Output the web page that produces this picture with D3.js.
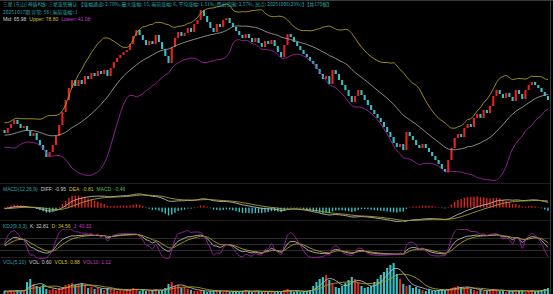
<!DOCTYPE html>
<html lang="zh">
<head>
<meta charset="UTF-8">
<title>神盾K线</title>
<script src="https://d3js.org/d3.v7.min.js"></script>
<style>
  html, body { margin: 0; padding: 0; background: #000; }
  svg { display: block; }
  text { font-family: "Liberation Sans", "Noto Sans CJK SC", sans-serif; font-size: 5px; }
  text.cjk { font-family: "Noto Sans CJK SC", sans-serif; font-size: 5px; }
</style>
</head>
<body>
<svg id="chart" width="553" height="294"></svg>
<script>
// closes before the first visible bar (only used to warm up the indicators)
const preClose = [36, 38, 40, 41, 39, 37, 35, 33, 30, 28, 27, 29, 31, 33, 35, 37, 38, 36, 34, 32, 30, 29, 31, 33, 35];

// visible bars, each bar opens at the previous close
const close = [
  33.5, 36, 38, 40, 38, 36, 37, 34.5, 32, 33.5,
  30, 27.5, 25, 21.5, 24, 27.5, 32, 37.5, 44, 50,
  56, 60, 57, 60, 58, 62, 60.5, 63.5, 62, 64.5,
  63, 65, 62, 66, 69, 71, 72.5, 74, 75, 78,
  82, 85, 82.5, 80, 77.5, 79.5, 78, 82.5, 79, 75.5,
  72, 68.5, 76.5, 81, 84, 82, 83.5, 86, 84, 88,
  90, 95, 92, 89, 86, 84, 88, 86.5, 90, 91,
  88.5, 86.5, 84.5, 82.5, 81, 83, 81, 79, 81, 78.5,
  76.5, 79.5, 78, 80, 77, 74, 71.5, 77.5, 83, 81.5,
  79, 77, 75, 73, 71.5, 69.5, 68, 65.5, 63, 60.5,
  62, 58, 65, 63, 60, 57.5, 55, 52, 49, 52,
  55, 52.5, 50, 47.5, 45, 43, 41, 39, 36.5, 34,
  31.5, 28.5, 26.5, 28, 25, 34, 32, 30, 27.5, 26,
  28, 26, 24, 22, 20, 18, 15.5, 14, 20, 26,
  31, 33, 31.5, 36, 38, 36.5, 41, 43, 41, 45,
  43.5, 47, 52, 55, 53, 51, 53.5, 51.5, 49.5, 55,
  53, 50.5, 55, 57.5, 59, 57.5, 56, 54, 52, 50
];

const volume = [
  0.3, 0.25, 0.35, 0.3, 0.4, 0.3, 0.35, 1.2, 1.5, 1.0,
  0.8, 0.7, 0.9, 0.5, 0.4, 0.5, 0.4, 0.6, 0.7, 0.9,
  1.0, 1.1, 0.9, 1.0, 1.1, 0.9, 0.6, 0.7, 0.5, 0.6,
  0.5, 0.4, 0.6, 0.5, 0.4, 0.3, 0.4, 0.3, 0.5, 0.4,
  0.6, 0.5, 0.3, 0.4, 0.3, 0.3, 0.4, 0.5, 0.3, 0.4,
  0.6, 1.0, 1.2, 0.8, 0.9, 0.6, 0.7, 0.5, 0.4, 0.3,
  0.3, 0.4, 0.3, 0.2, 0.3, 0.3, 0.4, 0.3, 0.2, 0.3,
  0.2, 0.3, 0.3, 0.2, 0.3, 0.4, 0.3, 0.2, 0.3, 0.3,
  0.2, 0.3, 0.2, 0.3, 0.2, 0.3, 0.2, 0.4, 0.5, 0.3,
  0.2, 0.3, 0.2, 0.3, 0.3, 0.4, 0.8, 1.2, 1.5, 1.7,
  1.9, 1.4, 1.0, 0.7, 0.6, 0.8, 1.1, 1.4, 1.7, 1.5,
  1.1, 0.8, 0.6, 0.7, 0.8, 1.2, 1.5, 1.9, 2.2, 2.6,
  2.9, 3.1, 2.0, 1.5, 1.0, 0.8, 0.9, 0.6, 0.7, 0.5,
  0.4, 0.3, 0.4, 0.3, 0.3, 0.4, 0.5, 0.4, 0.5, 0.6,
  0.7, 0.8, 0.7, 0.6, 0.7, 0.5, 0.4, 0.3, 0.4, 0.3,
  0.3, 0.4, 0.5, 0.4, 0.3, 0.3, 0.2, 0.3, 0.3, 0.4,
  0.3, 0.3, 0.2, 0.3, 0.4, 0.3, 0.3, 0.4, 0.5, 0.6
];

const titleText = "三星 [东山] 神盾K线: 三星涨势确认 【涨幅通道: 2.70%, 最大涨幅: 15, 当前涨幅: 6, 平均涨幅: 1.51%, 跌出范围: 2.57%, 高点: 20251008(29%)】【共170根】";
const subText = "20251017期 异常: 56( 当前涨幅: 1";
const bollLabels = ["Mid: 65.98", "Upper: 78.80", "Lower: 41.08"];
const macdLabels = ["MACD(12,26,9)", "DIFF: -0.95", "DEA: -0.81", "MACD: -0.46"];
const kdjLabels = ["KDJ(9,3,3)", "K: 32.81", "D: 34.56", "J: 40.33"];
const volLabels = ["VOL(5,10)", "VOL: 0.60", "VOL5: 0.88", "VOL10: 1.12"];

const W = 553, H = 294;
const UP = "#e8231e", DOWN = "#33c3c6";
const C_WHITE = "#b8b8b8", C_YEL = "#aa9e22", C_MAG = "#a022a6", C_TEAL = "#2aa6ae";
const T_WHITE = "#d0d0d0", T_YEL = "#d0c22c", T_MAG = "#c23cca";

const svg = d3.select("#chart");
svg.append("rect").attr("width", W).attr("height", H).attr("fill", "#000");

// ---- indicators ----
const all = preClose.concat(close);
const n0 = preClose.length;
const openAll = all.map((c, i) => i === 0 ? c : all[i - 1]);
const open = openAll.slice(n0);

function ma(arr, n) {
  return arr.map((_, i) => d3.mean(arr.slice(Math.max(0, i - n + 1), i + 1)));
}
function ema(arr, n) {
  const k = 2 / (n + 1);
  let e;
  return arr.map((v, i) => e = i === 0 ? v : e + k * (v - e));
}

const mid = ma(all, 20);
const sd = all.map((_, i) => d3.deviation(all.slice(Math.max(0, i - 19), i + 1)) || 0);
const boll = close.map((c, i) => {
  const j = i + n0;
  return { mid: mid[j], up: mid[j] + 2 * sd[j], lo: mid[j] - 2 * sd[j] };
});

const e12 = ema(all, 12), e26 = ema(all, 26);
const difAll = e12.map((v, i) => v - e26[i]);
const deaAll = ema(difAll, 9);
const dif = difAll.slice(n0), dea = deaAll.slice(n0);
const hist = dif.map((v, i) => 2 * (v - dea[i]));

const hiAll = all.map((c, i) => Math.max(c, openAll[i]));
const loAll = all.map((c, i) => Math.min(c, openAll[i]));
let k = 50, d = 50;
const kdjAll = all.map((c, i) => {
  const hh = d3.max(hiAll.slice(Math.max(0, i - 8), i + 1));
  const ll = d3.min(loAll.slice(Math.max(0, i - 8), i + 1));
  const rsv = hh === ll ? 50 : (c - ll) / (hh - ll) * 100;
  k = (2 * k + rsv) / 3;
  d = (2 * d + k) / 3;
  return { k, d, j: 3 * k - 2 * d };
});
const kdj = kdjAll.slice(n0);

const vma5 = ma(volume, 5), vma10 = ma(volume, 10);

// ---- scales ----
const idx = d3.range(close.length);
const x = d3.scaleBand().domain(idx).range([3.5, 549]).paddingInner(0.35);
const cx = i => x(i) + x.bandwidth() / 2;

const yP = d3.scaleLinear().domain([10, 97.5]).range([180, 5]);
const mExt = d3.extent(dif.concat(dea));
const yM = d3.scaleLinear().domain(mExt).range([222, 194]);
// bars get their own amplitude around the zero line
const hMax = d3.max(hist, v => Math.abs(v));
const yH = d3.scaleLinear().domain([-hMax, hMax]).range([yM(0) + 12, yM(0) - 12]);
const yK = d3.scaleLinear().domain([20, 80]).range([250.3, 238.3]);
const yV = d3.scaleLinear().domain([0, 3.1]).range([294, 263]);

// ---- frame ----
const frame = svg.append("g").attr("stroke-width", 1).attr("shape-rendering", "crispEdges");
frame.append("line").attr("x1", 0).attr("x2", W).attr("y1", 0.5).attr("y2", 0.5).attr("stroke", "#3a3a3a");
[183.5, 220.5, 257.5].forEach(y =>
  frame.append("line").attr("x1", 0).attr("x2", 550).attr("y1", y).attr("y2", y).attr("stroke", "#1e1e1e"));
frame.append("line").attr("x1", 550.5).attr("x2", 550.5).attr("y1", 0).attr("y2", H).attr("stroke", "#3a3a3a");
[20, 50, 80].forEach(v =>
  frame.append("line").attr("x1", 0).attr("x2", 550).attr("y1", Math.round(yK(v)) + 0.5).attr("y2", Math.round(yK(v)) + 0.5).attr("stroke", "#2c2c2c"));

// clip regions
const defs = svg.append("defs");
function clip(id, y0, y1) {
  defs.append("clipPath").attr("id", id).append("rect").attr("x", 0).attr("y", y0).attr("width", 550).attr("height", y1 - y0);
  return `url(#${id})`;
}

// ---- main panel ----
const main = svg.append("g").attr("clip-path", clip("cMain", 1, 183));
main.append("g").selectAll("rect").data(idx).join("rect")
  .attr("x", i => x(i))
  .attr("width", x.bandwidth())
  .attr("y", i => yP(Math.max(open[i], close[i])))
  .attr("height", i => Math.max(1, Math.abs(yP(open[i]) - yP(close[i]))))
  .attr("fill", i => close[i] >= open[i] ? UP : DOWN);

const bandLine = key => d3.line().x(i => cx(i)).y(i => yP(boll[i][key])).curve(d3.curveMonotoneX)(idx);
[["up", C_YEL], ["mid", "#9a9a9a"], ["lo", C_MAG]].forEach(([key, col]) =>
  main.append("path").attr("d", bandLine(key)).attr("fill", "none").attr("stroke", col).attr("stroke-width", 0.9));

// ---- MACD ----
const macd = svg.append("g").attr("clip-path", clip("cMacd", 192, 222));
macd.append("g").selectAll("rect").data(idx).join("rect")
  .attr("x", i => cx(i) - 0.7)
  .attr("width", 1.4)
  .attr("y", i => Math.min(yH(0), yH(hist[i])))
  .attr("height", i => Math.max(0.5, Math.abs(yH(hist[i]) - yH(0))))
  .attr("fill", i => hist[i] >= 0 ? UP : DOWN);
[[dif, C_WHITE], [dea, C_YEL]].forEach(([arr, col]) =>
  macd.append("path").attr("d", d3.line().x(i => cx(i)).y(i => yM(arr[i])).curve(d3.curveMonotoneX)(idx))
    .attr("fill", "none").attr("stroke", col).attr("stroke-width", 0.9));

// ---- KDJ ----
const kg = svg.append("g").attr("clip-path", clip("cKdj", 229, 259));
[["k", C_WHITE], ["d", C_YEL], ["j", C_MAG]].forEach(([key, col]) =>
  kg.append("path").attr("d", d3.line().x(i => cx(i)).y(i => yK(kdj[i][key])).curve(d3.curveMonotoneX)(idx))
    .attr("fill", "none").attr("stroke", col).attr("stroke-width", 0.9));

// ---- VOL ----
const vg = svg.append("g").attr("clip-path", clip("cVol", 262, 294));
vg.append("g").selectAll("rect").data(idx).join("rect")
  .attr("x", i => x(i))
  .attr("width", x.bandwidth())
  .attr("y", i => yV(volume[i]))
  .attr("height", i => yV(0) - yV(volume[i]))
  .attr("fill", i => close[i] >= open[i] ? UP : DOWN);
[[vma5, C_WHITE], [vma10, C_YEL]].forEach(([arr, col]) =>
  vg.append("path").attr("d", d3.line().x(i => cx(i)).y(i => yV(arr[i])).curve(d3.curveMonotoneX)(idx))
    .attr("fill", "none").attr("stroke", col).attr("stroke-width", 0.9));

// ---- texts ----
svg.append("text").attr("class", "cjk").attr("x", 3).attr("y", 6)
  .attr("fill", C_TEAL)
  .attr("textLength", 329).attr("lengthAdjust", "spacingAndGlyphs").text(titleText);
svg.append("text").attr("class", "cjk").attr("x", 3).attr("y", 13.5)
  .attr("fill", C_TEAL).text(subText);

function legend(y, items, colors) {
  let tx = 3;
  items.forEach((t, i) => {
    const el = svg.append("text").attr("x", tx).attr("y", y).attr("fill", colors[i]).text(t);
    tx += el.node().getComputedTextLength() + 3;
  });
}
legend(20.5, bollLabels, [T_WHITE, T_YEL, T_MAG]);
legend(191, macdLabels, [C_TEAL, T_WHITE, T_YEL, "#4cc04c"]);
legend(227.5, kdjLabels, [C_TEAL, T_WHITE, T_YEL, T_MAG]);
legend(263.5, volLabels, [C_TEAL, T_WHITE, T_YEL, T_MAG]);
</script>
</body>
</html>
